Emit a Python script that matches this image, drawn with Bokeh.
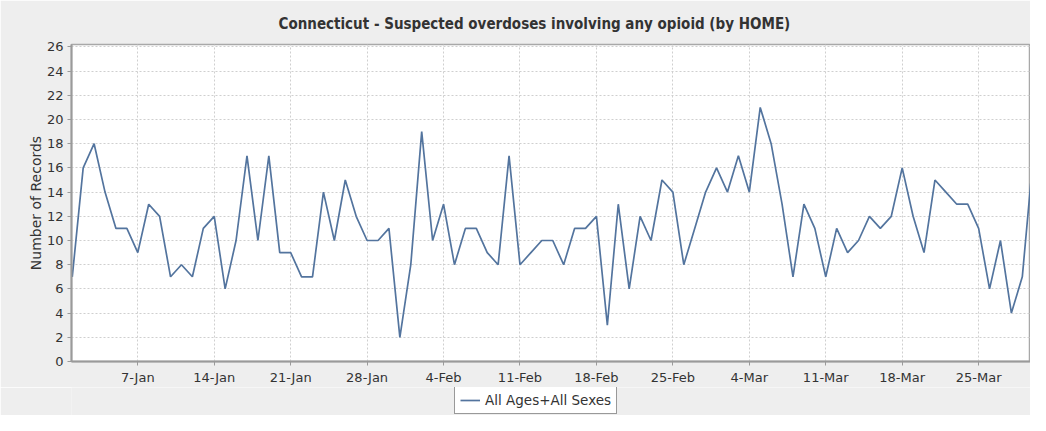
import pandas as pd
from bokeh.plotting import figure
from bokeh.layouts import column
from bokeh.models import (FixedTicker, Range1d, Legend, LegendItem)
from bokeh.embed import file_html
from bokeh.resources import INLINE

# ---- data ----
start_date = "2018-01-01"
counts = [
    # January
    7, 16, 18, 14, 11, 11, 9, 13, 12, 7, 8, 7, 11, 12, 6, 10, 17, 10, 17, 9,
    9, 7, 7, 14, 10, 15, 12, 10, 10, 11, 2,
    # February
    8, 19, 10, 13, 8, 11, 11, 9, 8, 17, 8, 9, 10, 10, 8, 11, 11, 12, 3, 13,
    6, 12, 10, 15, 14, 8, 11, 14,
    # March
    16, 14, 17, 14, 21, 18, 13, 7, 13, 11, 7, 11, 9, 10, 12, 11, 12, 16, 12, 9,
    15, 14, 13, 13, 11, 6, 10, 4, 7, 17, 16,
]
tick_dates = ["2018-01-07", "2018-01-14", "2018-01-21", "2018-01-28",
              "2018-02-04", "2018-02-11", "2018-02-18", "2018-02-25",
              "2018-03-04", "2018-03-11", "2018-03-18", "2018-03-25"]
tick_labels = ["7-Jan", "14-Jan", "21-Jan", "28-Jan", "4-Feb", "11-Feb",
               "18-Feb", "25-Feb", "4-Mar", "11-Mar", "18-Mar", "25-Mar"]
y_ticks = list(range(0, 27, 2))
series_name = "All Ages+All Sexes"
title_text = "Connecticut - Suspected overdoses involving any opioid (by HOME)"

dates = pd.date_range(start_date, periods=len(counts), freq="D")

def ms(ts):
    return float(pd.Timestamp(ts).value // 10**6)

day_ms = 86400000.0
x0 = ms(start_date)
BG = "#eeeeee"
LINE = "#53749e"
TXT = "#333333"

p = figure(width=1030, height=387, x_axis_type="datetime",
           output_backend="svg", toolbar_location=None,
           x_range=Range1d(x0 - 0.07 * day_ms, x0 + 87.75 * day_ms),
           y_range=Range1d(0, 26.2),
           min_border_left=71, min_border_right=0,
           min_border_top=43, min_border_bottom=24)

p.border_fill_color = BG
p.background_fill_color = "white"
p.outline_line_color = "#a8a8a8"
p.outline_line_width = 1.5

# title
p.title.text = title_text
p.title.align = "left"
p.title.offset = 207
p.title.text_font = "DejaVu Sans Condensed"
p.title.text_font_style = "bold"
p.title.text_font_size = "15px"
p.title.text_color = TXT
p.title.standoff = 24

r = p.line(dates, counts, line_color=LINE, line_width=1.7)

# axes
tick_ms = [ms(d) for d in tick_dates]
p.xaxis.ticker = FixedTicker(ticks=tick_ms)
p.xaxis.major_label_overrides = {t: l for t, l in zip(tick_ms, tick_labels)}
p.yaxis.ticker = FixedTicker(ticks=y_ticks)
p.yaxis.axis_label = "Number of Records"

for ax in (p.xaxis[0], p.yaxis[0]):
    ax.axis_line_color = "#9a9a9a"
    ax.axis_line_width = 2
    ax.major_tick_line_color = "#9a9a9a"
    ax.major_tick_in = 0
    ax.major_tick_out = 4
    ax.minor_tick_line_color = None
    ax.major_label_text_font = "DejaVu Sans"
    ax.major_label_text_font_size = "13px"
    ax.major_label_text_color = TXT
    ax.major_label_standoff = 4

p.yaxis.axis_label_text_font = "DejaVu Sans"
p.yaxis.axis_label_text_font_size = "14px"
p.yaxis.axis_label_text_font_style = "normal"
p.yaxis.axis_label_text_color = TXT
p.yaxis.axis_label_standoff = 0

# grid
for g in (p.xgrid[0], p.ygrid[0]):
    g.grid_line_color = "#cfcfcf"
    g.grid_line_dash = "2 2"
    g.grid_line_width = 1

# ---- legend strip below the chart ----
p2 = figure(width=1030, height=28, output_backend="svg", toolbar_location=None,
            x_range=Range1d(0, 1), y_range=Range1d(0, 1),
            x_axis_location=None, y_axis_location=None,
            min_border_left=0, min_border_right=0,
            min_border_top=0, min_border_bottom=0)
p2.border_fill_color = BG
p2.background_fill_color = BG
p2.outline_line_color = None
p2.grid.visible = False
r2 = p2.line(dates, counts, line_color=LINE, line_width=1.7)

legend = Legend(items=[LegendItem(label=series_name, renderers=[r2])],
                location=(383, 1), orientation="horizontal",
                border_line_color="#333333", border_line_width=1.2,
                background_fill_color="white", background_fill_alpha=1.0,
                padding=5, margin=0, glyph_width=20, glyph_height=16,
                label_height=16, label_standoff=5,
                label_text_font="DejaVu Sans", label_text_font_size="13.5px",
                label_text_color=TXT)
p2.add_layout(legend)

layout = column(p, p2, spacing=0)
open("out.html", "w").write(file_html(layout, INLINE))
